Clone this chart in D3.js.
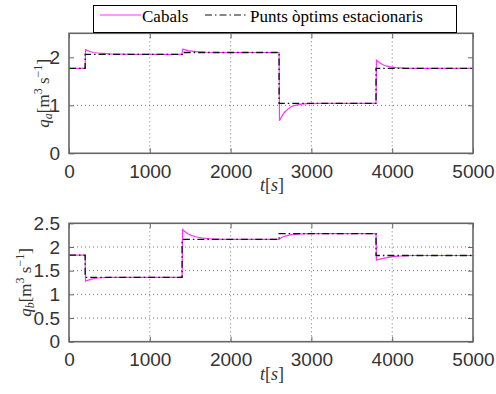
<!DOCTYPE html>
<html>
<head>
<meta charset="utf-8">
<script src="https://cdn.jsdelivr.net/npm/d3@7"></script>
<style>
  body { margin: 0; background: #fff; }
  svg { display: block; }
  .tick text { font-family: "Liberation Sans", Arial, sans-serif; fill: #333; }
</style>
</head>
<body>
<svg id="chart" width="496" height="394"></svg>
<script>
// Time axis ticks (s)
const timeTicks = [0, 1000, 2000, 3000, 4000, 5000];

// q_a: stationary optimal set-points [t, value]
const qaOptimal = [
  [0, 1.77], [200, 1.77], [200, 2.06], [1400, 2.06], [1400, 2.10],
  [2600, 2.10], [2600, 1.04], [3800, 1.04], [3800, 1.77], [5000, 1.77]
];
// q_a: simulated flow [t, value]
const qaFlow = [
  [0, 1.77], [200, 1.77], [205, 2.16], [230, 2.14], [260, 2.12], [300, 2.10],
  [350, 2.09], [420, 2.08], [500, 2.07], [650, 2.065], [800, 2.06], [1400, 2.06],
  [1405, 2.17], [1430, 2.16], [1470, 2.14], [1520, 2.13], [1600, 2.115],
  [1700, 2.105], [1850, 2.10], [2600, 2.10],
  [2605, 0.68], [2630, 0.76], [2660, 0.84], [2700, 0.91], [2750, 0.97],
  [2800, 1.00], [2870, 1.025], [2950, 1.035], [3100, 1.04], [3800, 1.04],
  [3805, 1.94], [3830, 1.90], [3870, 1.86], [3920, 1.82], [3980, 1.80],
  [4050, 1.785], [4150, 1.775], [4300, 1.77], [5000, 1.77]
];
const qaTicks = [0, 1, 2];

// q_b: stationary optimal set-points [t, value]
const qbOptimal = [
  [0, 1.83], [200, 1.83], [200, 1.36], [1400, 1.36], [1400, 2.16],
  [2600, 2.16], [2600, 2.28], [3800, 2.28], [3800, 1.82], [5000, 1.82]
];
// q_b: simulated flow [t, value]
const qbFlow = [
  [0, 1.83], [200, 1.83], [205, 1.28], [240, 1.30], [280, 1.32], [330, 1.34],
  [400, 1.35], [500, 1.36], [1400, 1.36],
  [1405, 2.37], [1430, 2.33], [1470, 2.28], [1520, 2.24], [1580, 2.21],
  [1650, 2.19], [1750, 2.17], [1900, 2.16], [2600, 2.16],
  [2620, 2.19], [2650, 2.215], [2700, 2.24], [2750, 2.26], [2820, 2.27],
  [2900, 2.275], [3000, 2.28], [3800, 2.28],
  [3805, 1.72], [3840, 1.74], [3890, 1.76], [3950, 1.78], [4030, 1.80],
  [4120, 1.81], [4250, 1.82], [5000, 1.82]
];
const qbTicks = [0, 0.5, 1, 1.5, 2, 2.5];

const legendLabels = ["Cabals", "Punts òptims estacionaris"];

const svg = d3.select("#chart");
const flowColor = "#ff33ff";
const boxColor = "#666";
const serif = "'Liberation Serif', 'DejaVu Serif', serif";

function panel(opt) {
  const { top, bottom, data, optimal, ticks, sub, labelX } = opt;
  const left = 69, right = 473;
  const x = d3.scaleLinear().domain([0, 5000]).range([left, right]);
  const y = d3.scaleLinear().domain([0, 2.5]).range([bottom, top]);
  const g = svg.append("g");

  // plot area
  g.append("rect").attr("x", left).attr("y", top)
    .attr("width", right - left).attr("height", bottom - top).attr("fill", "#fff");

  // dotted grid
  g.append("g").selectAll("line").data(timeTicks.slice(1, -1)).join("line")
    .attr("x1", d => x(d)).attr("x2", d => x(d)).attr("y1", top).attr("y2", bottom)
    .attr("stroke", "#777").attr("stroke-width", 1).attr("stroke-dasharray", "1,3");
  g.append("g").selectAll("line").data(ticks.slice(1, -1)).join("line")
    .attr("y1", d => y(d)).attr("y2", d => y(d)).attr("x1", left).attr("x2", right)
    .attr("stroke", "#777").attr("stroke-width", 1).attr("stroke-dasharray", "1,3");

  const line = d3.line().x(d => x(d[0])).y(d => y(d[1]));

  // simulated flow
  g.append("path").datum(data).attr("d", line)
    .attr("fill", "none").attr("stroke", flowColor).attr("stroke-width", 1.2);
  // optimal set-points, dash-dot
  g.append("path").datum(optimal).attr("d", line)
    .attr("fill", "none").attr("stroke", "#111").attr("stroke-width", 1.3)
    .attr("stroke-dasharray", "7,3,1.5,3");

  // axes
  const xAxis = d3.axisBottom(x).tickValues(timeTicks).tickSize(-5).tickPadding(11)
    .tickFormat(d3.format("d"));
  const xTop = d3.axisTop(x).tickValues(timeTicks).tickSize(-5).tickFormat("");
  const yAxis = d3.axisLeft(y).tickValues(ticks).tickSize(-5).tickPadding(9)
    .tickFormat(d => String(d));
  const yRight = d3.axisRight(y).tickValues(ticks).tickSize(-5).tickFormat("");

  const ax = [
    g.append("g").attr("transform", `translate(0,${bottom})`).call(xAxis),
    g.append("g").attr("transform", `translate(0,${top})`).call(xTop),
    g.append("g").attr("transform", `translate(${left},0)`).call(yAxis),
    g.append("g").attr("transform", `translate(${right},0)`).call(yRight)
  ];
  ax.forEach(a => {
    a.select(".domain").remove();
    a.selectAll(".tick line").attr("stroke", boxColor);
    a.selectAll(".tick text").attr("font-size", 19);
  });

  g.append("rect").attr("x", left).attr("y", top)
    .attr("width", right - left).attr("height", bottom - top)
    .attr("fill", "none").attr("stroke", boxColor).attr("stroke-width", 1.6);

  // x label
  const xl = g.append("text").attr("x", (left + right) / 2 + 1).attr("y", bottom + 38)
    .attr("text-anchor", "middle").attr("font-family", serif)
    .attr("font-size", 18).attr("fill", "#333");
  xl.append("tspan").attr("font-style", "italic").text("t");
  xl.append("tspan").text("[");
  xl.append("tspan").attr("font-style", "italic").text("s");
  xl.append("tspan").text("]");

  // y label
  const yl = g.append("text")
    .attr("transform", `translate(${labelX},${(top + bottom) / 2}) rotate(-90)`)
    .attr("text-anchor", "middle").attr("font-family", serif)
    .attr("font-size", 17).attr("fill", "#333");
  yl.append("tspan").attr("font-style", "italic").text("q");
  yl.append("tspan").attr("font-style", "italic").attr("font-size", 12).attr("dy", 3).text(sub);
  yl.append("tspan").attr("dy", -3).text("[m");
  yl.append("tspan").attr("font-size", 12).attr("dy", -7).text("3");
  yl.append("tspan").attr("dy", 7).text(" s");
  yl.append("tspan").attr("font-size", 12).attr("dy", -7).text("−1");
  yl.append("tspan").attr("dy", 7).text("]");
}

panel({ top: 33.3, bottom: 153.3, data: qaFlow, optimal: qaOptimal, ticks: qaTicks, sub: "a", labelX: 49 });
panel({ top: 223.3, bottom: 341.7, data: qbFlow, optimal: qbOptimal, ticks: qbTicks, sub: "b", labelX: 31 });

// legend
const lg = svg.append("g");
lg.append("rect").attr("x", 93.5).attr("y", 5.5).attr("width", 363).attr("height", 27)
  .attr("fill", "#fff").attr("stroke", "#000").attr("stroke-width", 1);
lg.append("line").attr("x1", 100).attr("x2", 141).attr("y1", 15).attr("y2", 15)
  .attr("stroke", flowColor).attr("stroke-width", 1.2);
lg.append("line").attr("x1", 205).attr("x2", 248).attr("y1", 15).attr("y2", 15)
  .attr("stroke", "#111").attr("stroke-width", 1.2).attr("stroke-dasharray", "7,3,1.5,3");
lg.selectAll("text.leg").data(legendLabels).join("text").attr("class", "leg")
  .attr("x", (d, i) => i === 0 ? 142 : 250).attr("y", 22)
  .attr("font-family", serif).attr("font-size", 17).attr("fill", "#000")
  .text(d => d);
</script>
</body>
</html>
